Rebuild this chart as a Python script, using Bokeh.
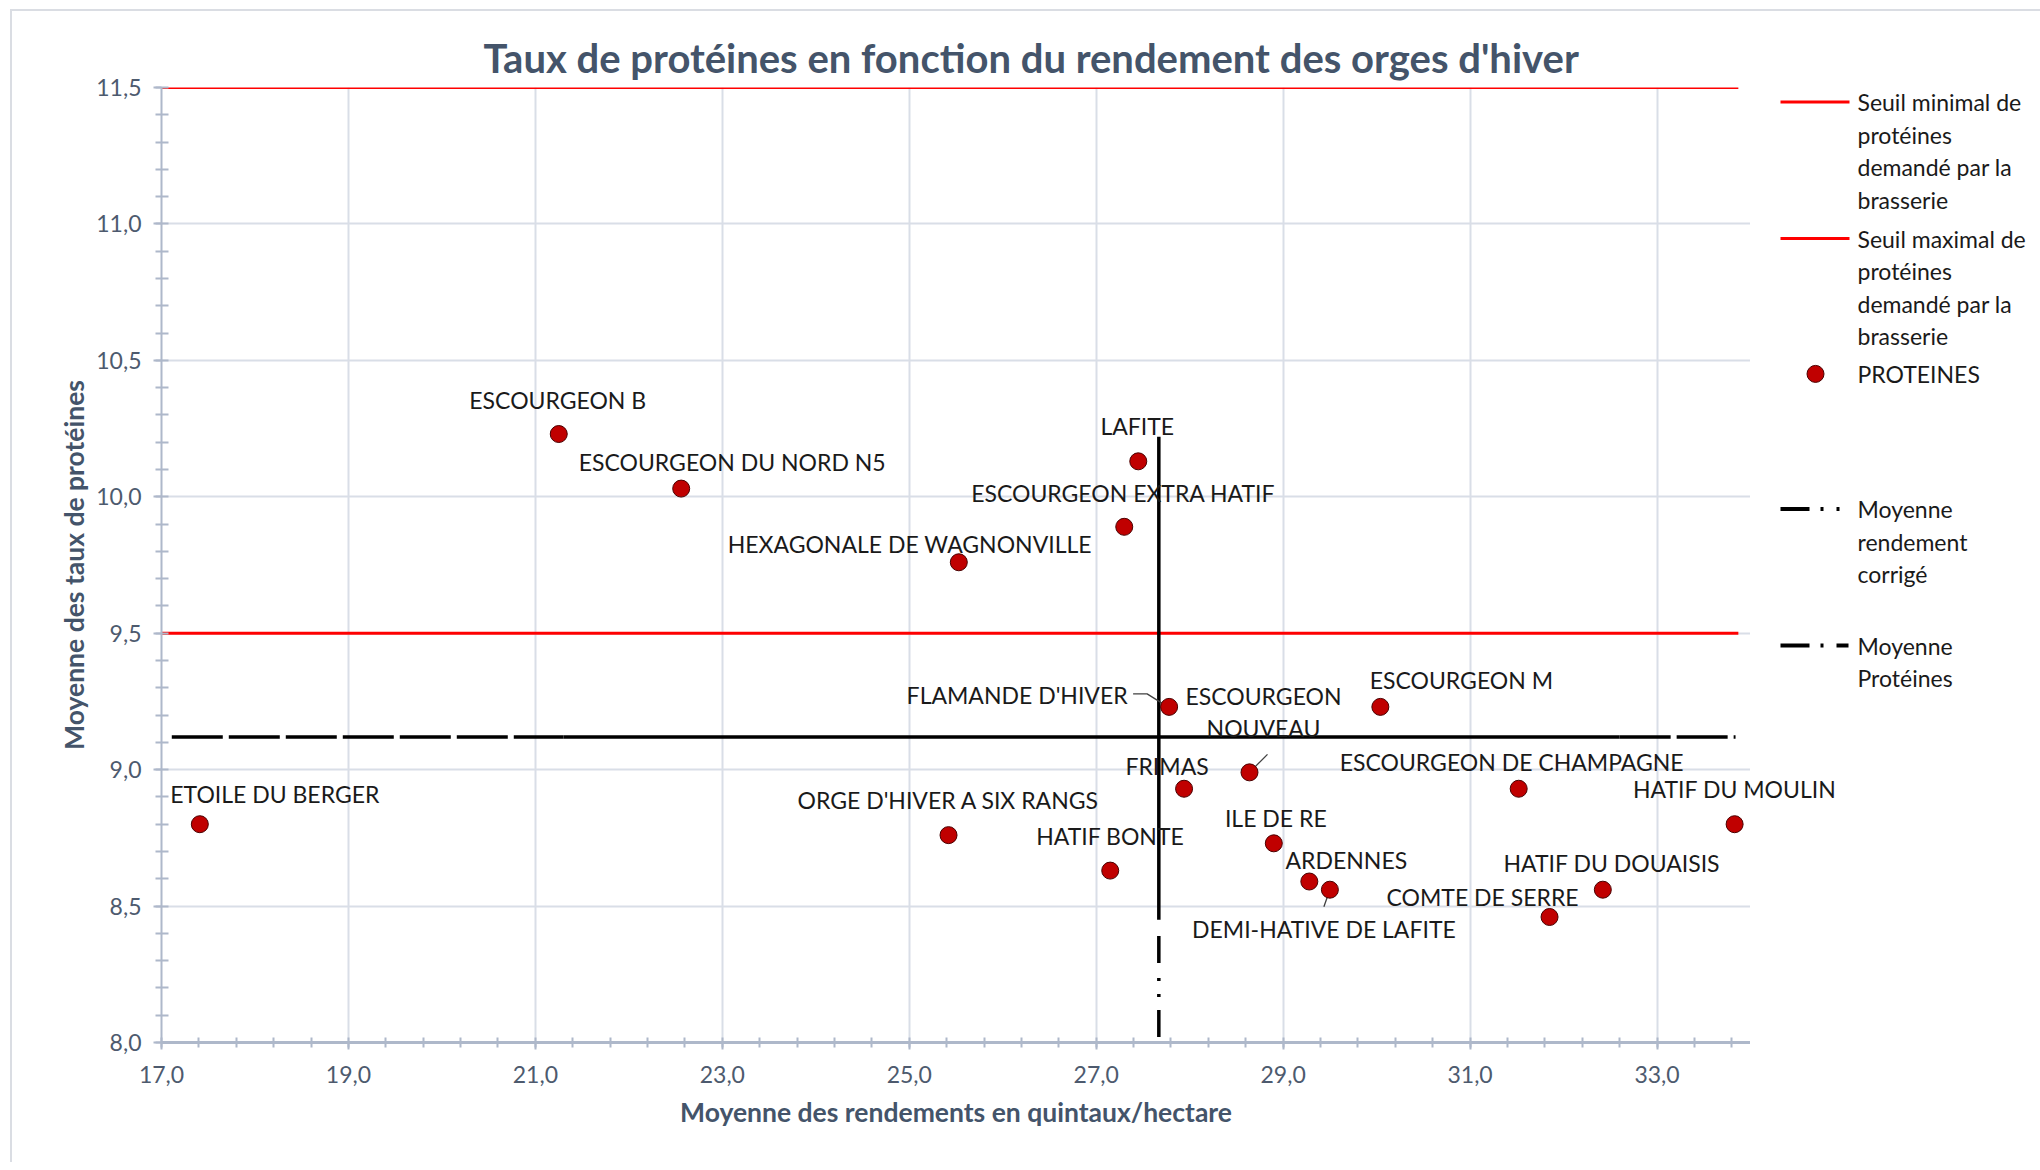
from bokeh.plotting import figure
from bokeh.models import Range1d, FixedTicker, ColumnDataSource
from bokeh.layouts import row
from bokeh.embed import file_html
from bokeh.resources import INLINE
from bokeh.core.properties import value

# ---------------- data ----------------
varietes = [
    "ETOILE DU BERGER", "ESCOURGEON B", "ESCOURGEON DU NORD N5",
    "HEXAGONALE DE WAGNONVILLE", "LAFITE", "ESCOURGEON EXTRA HATIF",
    "FLAMANDE D'HIVER", "ESCOURGEON\nNOUVEAU", "ESCOURGEON M", "FRIMAS",
    "ESCOURGEON DE CHAMPAGNE", "HATIF DU MOULIN", "ORGE D'HIVER A SIX RANGS",
    "HATIF BONTE", "ILE DE RE", "ARDENNES", "DEMI-HATIVE DE LAFITE",
    "HATIF DU DOUAISIS", "COMTE DE SERRE",
]
rendements = [17.41, 21.25, 22.56, 25.53, 27.45, 27.30, 27.78, 28.64, 30.04, 27.94,
              31.52, 33.83, 25.42, 27.15, 28.90, 29.28, 29.50, 32.42, 31.85]
proteines = [8.80, 10.23, 10.03, 9.76, 10.13, 9.89, 9.23, 8.99, 9.23, 8.93,
             8.93, 8.80, 8.76, 8.63, 8.73, 8.59, 8.56, 8.56, 8.46]

seuil_minimal = 9.5
seuil_maximal = 11.5
seuil_x = [17.0, 33.87]

moyenne_proteines = 9.12
moyenne_proteines_x = [17.11, 21.3, 32.6, 33.84]   # dashed / solid / dashed pieces
moyenne_rendement = 27.67
moyenne_rendement_y = [8.0, 8.39, 8.45, 10.22]     # dashed piece, solid piece

x_ticks = [17, 19, 21, 23, 25, 27, 29, 31, 33]
x_tick_labels = ["17,0", "19,0", "21,0", "23,0", "25,0", "27,0", "29,0", "31,0", "33,0"]
y_ticks = [8.0, 8.5, 9.0, 9.5, 10.0, 10.5, 11.0, 11.5]
y_tick_labels = ["8,0", "8,5", "9,0", "9,5", "10,0", "10,5", "11,0", "11,5"]

titre = "Taux de protéines en fonction du rendement des orges d'hiver"
titre_x = "Moyenne des rendements en quintaux/hectare"
titre_y = "Moyenne des taux de protéines"
legende = ["Seuil minimal de\nprotéines\ndemandé par la\nbrasserie",
           "Seuil maximal de\nprotéines\ndemandé par la\nbrasserie",
           "PROTEINES",
           "Moyenne\nrendement\ncorrigé",
           "Moyenne\nProtéines"]

# ---------------- layout (pixels) ----------------
FONT = "Lato"
SLATE = "#44546A"
FRAME_L, FRAME_T, FRAME_W, FRAME_H = 161, 87, 1589, 955
MAIN_W, TOTAL_W, TOTAL_H = 1750, 2040, 1162
X0, X1, Y0, Y1 = 17.0, 34.0, 8.0, 11.5
PX_X = FRAME_W / (X1 - X0)
PX_Y = FRAME_H / (Y1 - Y0)

label_offsets = {
    "ETOILE DU BERGER": (75, -30), "ESCOURGEON B": (-1, -34),
    "ESCOURGEON DU NORD N5": (51, -27), "HEXAGONALE DE WAGNONVILLE": (-49, -18),
    "LAFITE": (-1, -35), "ESCOURGEON EXTRA HATIF": (-1, -34),
    "FLAMANDE D'HIVER": (-152, -12), "ESCOURGEON\nNOUVEAU": (14, -60),
    "ESCOURGEON M": (81, -27), "FRIMAS": (-17, -23),
    "ESCOURGEON DE CHAMPAGNE": (-7, -27), "HATIF DU MOULIN": (0, -35),
    "ORGE D'HIVER A SIX RANGS": (0, -35), "HATIF BONTE": (0, -35),
    "ILE DE RE": (2, -25), "ARDENNES": (37, -22),
    "DEMI-HATIVE DE LAFITE": (-6, 39), "HATIF DU DOUAISIS": (9, -27),
    "COMTE DE SERRE": (-67, -20),
}
leaders = {  # pixel offsets of leader-line vertices relative to the point
    "FLAMANDE D'HIVER": [(-36, -13), (-22, -13), (-6, -3)],
    "ESCOURGEON\nNOUVEAU": [(1, -1), (18, -18)],
    "DEMI-HATIVE DE LAFITE": [(0, 0), (-6, 17)],
}

p = figure(width=MAIN_W, height=TOTAL_H, x_range=Range1d(X0, X1), y_range=Range1d(Y0, Y1),
           output_backend="svg", toolbar_location=None,
           min_border_left=FRAME_L, min_border_right=MAIN_W - FRAME_L - FRAME_W,
           min_border_top=FRAME_T, min_border_bottom=TOTAL_H - FRAME_T - FRAME_H)
p.outline_line_color = None
p.border_fill_color = None

# title
p.title.text = titre
p.title.text_font = FONT
p.title.text_font_size = "40px"
p.title.text_font_style = "bold"
p.title.text_color = SLATE
p.title.align = "left"
p.title.offset = 322
p.title.standoff = 11

# grids
p.xgrid.ticker = FixedTicker(ticks=x_ticks)
p.ygrid.ticker = FixedTicker(ticks=y_ticks)
for g in (p.xgrid, p.ygrid):
    g.grid_line_color = "#D9DEE7"
    g.grid_line_width = 2

# axes
x_minor = [round(17 + 0.4 * i, 1) for i in range(43)]
y_minor = [round(8 + 0.1 * i, 1) for i in range(36)]
p.xaxis.ticker = FixedTicker(ticks=x_ticks, minor_ticks=x_minor)
p.yaxis.ticker = FixedTicker(ticks=y_ticks, minor_ticks=y_minor)
p.xaxis.major_label_overrides = {t: l for t, l in zip(x_ticks, x_tick_labels)}
p.yaxis.major_label_overrides = {t: l for t, l in zip(y_ticks, y_tick_labels)}
for ax in (p.xaxis, p.yaxis):
    ax.axis_line_color = "#AEB8CA"
    ax.major_tick_line_color = "#AEB8CA"
    ax.minor_tick_line_color = "#AEB8CA"
    ax.major_label_text_font = FONT
    ax.major_label_text_font_size = "23px"
    ax.major_label_text_color = "#4D5A6E"
    ax.axis_label_text_font = FONT
    ax.axis_label_text_font_size = "26.5px"
    ax.axis_label_text_font_style = "bold"
    ax.axis_label_text_color = SLATE
p.xaxis.axis_line_width = 3
p.xaxis.major_tick_line_width = 2
p.xaxis.minor_tick_line_width = 2
p.xaxis.major_tick_in = 0
p.xaxis.major_tick_out = 7
p.xaxis.minor_tick_in = 5
p.xaxis.minor_tick_out = 5
p.xaxis.major_label_standoff = 16
p.xaxis.axis_label = titre_x
p.xaxis.axis_label_standoff = 10
p.yaxis.axis_line_width = 2
p.yaxis.major_tick_line_width = 2
p.yaxis.minor_tick_line_width = 2
p.yaxis.major_tick_in = 0
p.yaxis.major_tick_out = 8
p.yaxis.minor_tick_in = 7
p.yaxis.minor_tick_out = 6
p.yaxis.major_label_standoff = 12
p.yaxis.axis_label = titre_y
p.yaxis.axis_label_standoff = 3

# threshold lines
for s in (seuil_minimal, seuil_maximal):
    p.line(seuil_x, [s, s], line_color="#FF0000", line_width=3)

# mean lines
mx = moyenne_proteines_x
p.line(mx[0:2], [moyenne_proteines] * 2, line_color="black", line_width=3.5, line_dash="51 6")
p.line(mx[1:3], [moyenne_proteines] * 2, line_color="black", line_width=3.5)
p.line(mx[2:4], [moyenne_proteines] * 2, line_color="black", line_width=3.5, line_dash="51 6")
my = moyenne_rendement_y
p.line([moyenne_rendement] * 2, [my[1], my[0]], line_color="black", line_width=3.5,
       line_dash="27 15 3 13 3 13")
p.line([moyenne_rendement] * 2, my[2:4], line_color="black", line_width=3.5)

# leader lines
lx, ly = [], []
for name, pts in leaders.items():
    i = varietes.index(name)
    lx.append([rendements[i] + dx / PX_X for dx, dy in pts])
    ly.append([proteines[i] - dy / PX_Y for dx, dy in pts])
p.multi_line(lx, ly, line_color="#404040", line_width=1.3)

# points
dxs = [label_offsets[n][0] for n in varietes]
dys = [label_offsets[n][1] for n in varietes]
src = ColumnDataSource(dict(x=rendements, y=proteines, label=varietes, dx=dxs, dy=dys))
p.scatter("x", "y", source=src, size=17, fill_color="#C00000", line_color="#4A0000", line_width=1)
LABEL_PX = 23
LABEL_STYLE = dict(text_align="center", text_baseline="middle", text_font=value(FONT),
                   text_font_size=f"{LABEL_PX}px", text_color="#1A1A1A", text_line_height=1.15)
p.text("x", "y", text="label", x_offset="dx", y_offset="dy", source=src, **LABEL_STYLE)

# ---------------- legend panel (coordinates = page pixels) ----------------
leg = figure(width=TOTAL_W - MAIN_W, height=TOTAL_H,
             x_range=Range1d(MAIN_W, TOTAL_W), y_range=Range1d(FRAME_T + FRAME_H, FRAME_T),
             output_backend="svg", toolbar_location=None,
             min_border_left=0, min_border_right=0,
             min_border_top=FRAME_T, min_border_bottom=TOTAL_H - FRAME_T - FRAME_H,
             x_axis_location=None, y_axis_location=None)
leg.grid.visible = False
leg.outline_line_color = None
leg.border_fill_color = None

# continuation of the point label that runs past the plot frame
ext = {"x": [], "y": [], "label": [], "dx": [], "dy": []}
for n, xv, yv, dx, dy in zip(varietes, rendements, proteines, dxs, dys):
    cx = FRAME_L + (xv - X0) * PX_X + dx
    half_w = 0.3 * LABEL_PX * max(len(s) for s in n.split("\n"))
    if cx + half_w > FRAME_L + FRAME_W:
        ext["x"].append(FRAME_L + (xv - X0) * PX_X)
        ext["y"].append(FRAME_T + FRAME_H - (yv - Y0) * PX_Y)
        ext["label"].append(n)
        ext["dx"].append(dx)
        ext["dy"].append(dy)
leg.text("x", "y", text="label", x_offset="dx", y_offset="dy",
         source=ColumnDataSource(ext), **LABEL_STYLE)

legend_y = [101.5, 238, 373.4, 508.5, 645]
LINE_GAP = 32.5
sample_x = [1780, 1849]
leg.line(sample_x, [legend_y[0]] * 2, line_color="#FF0000", line_width=3)
leg.line(sample_x, [legend_y[1]] * 2, line_color="#FF0000", line_width=3)
leg.scatter([1815], [legend_y[2]], size=17, fill_color="#C00000", line_color="#4A0000", line_width=1)
leg.line(sample_x, [legend_y[3]] * 2, line_color="black", line_width=4, line_dash="29 11 3 13 3 13")
leg.line(sample_x, [legend_y[4]] * 2, line_color="black", line_width=4, line_dash="29 11 3 13 12")

tx, ty, tt = [], [], []
for lab, y0 in zip(legende, legend_y):
    for k, line in enumerate(lab.split("\n")):
        tx.append(1857)
        ty.append(y0 + k * LINE_GAP)
        tt.append(line)
leg.text(tx, ty, text=tt, text_align="left", text_baseline="middle",
         text_font=value(FONT), text_font_size="23px", text_color="#1A1A1A")

# thin chart-area border (top and left), as in the reference
layout = row(p, leg, styles={
    "background-color": "white",
    "background-image": "linear-gradient(#DADDE3, #DADDE3), linear-gradient(#DADDE3, #DADDE3)",
    "background-position": "10px 9px, 10px 9px",
    "background-size": "100% 2px, 2px 100%",
    "background-repeat": "no-repeat",
})
open("out.html", "w").write(file_html(layout, INLINE))
